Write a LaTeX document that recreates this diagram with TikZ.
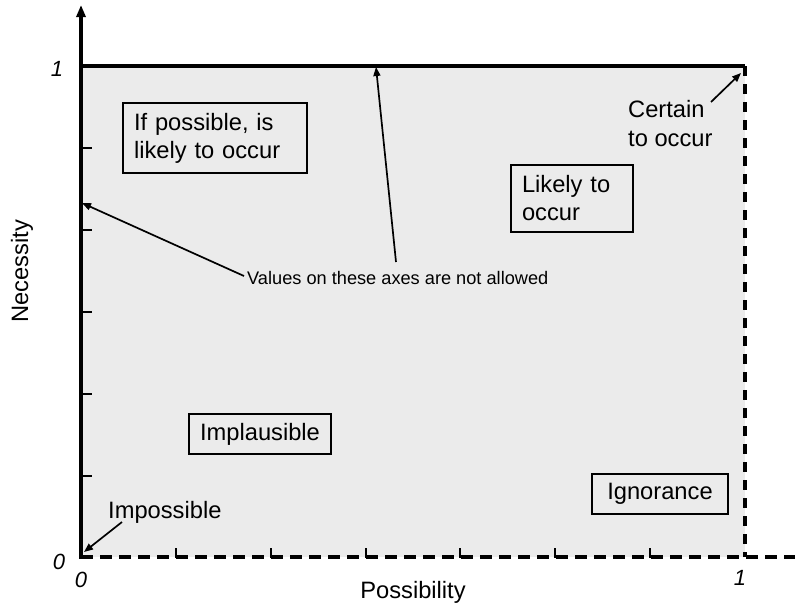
\documentclass[tikz,border=0pt]{standalone}
\usepackage{fontspec}
\setmainfont{Liberation Sans}
\usetikzlibrary{arrows.meta}
\begin{document}
\begin{tikzpicture}[x=1pt,y=-1pt,
  every node/.style={font=\fontsize{23.7}{28}\selectfont, inner sep=0pt},
  lbox/.style={draw=black, line width=2pt, align=left, inner xsep=10pt},
  axisline/.style={line width=3.2pt, black},
  dashaxis/.style={line width=3.2pt, black, dash pattern=on 12pt off 7pt},
  tick/.style={line width=2.4pt, black},
  pointer/.style={line width=1.7pt, -{Triangle[length=9pt,width=7pt]}},
  numlab/.style={font=\fontsize{22}{26}\selectfont\itshape}]
\useasboundingbox (0,0) rectangle (795,608);
% shaded region
\fill[black!8] (81,66) rectangle (745,557);
% axes
\coordinate (O) at (81,557);
\coordinate (TL) at (81,66);
\coordinate (TR) at (745,66);
\coordinate (BR) at (745,557);
\coordinate (YT) at (81,5);
\coordinate (XE) at (795,557);
\draw[dashaxis] (O) -- (XE);
\draw[dashaxis, dash pattern=on 10pt off 8pt] (TR) -- (BR);
\draw[axisline] (TL) -- (TR);
\draw[axisline, -{Triangle[length=12pt,width=9pt]}] (O) -- (YT);
\draw[axisline] (79.4,557) -- (92,557);
% ticks
\foreach \yy in {148,230,312,394,476} \draw[tick] (81,\yy) -- (92,\yy);
\foreach \xx in {176,271,366,460,555,650} \draw[tick] (\xx,548) -- (\xx,558);
% numeric labels
\node[numlab] (n1y) at (57,69) {1};
\node[numlab] (n0y) at (59,562) {0};
\node[numlab] (n0x) at (81,580) {0};
\node[numlab] (n1x) at (740,578) {1};
% axis titles
\node[anchor=base] (px) at (413,598) {Possibility};
\node[rotate=90, anchor=base] (ny) at (28,271) {Necessity};
% boxes
\node[lbox, minimum width=184pt, minimum height=70pt, text width=162pt] (b1) at (215,138) {If possible, is\\likely to occur};
\node[lbox, minimum width=122pt, minimum height=67pt, text width=100pt] (b2) at (572,198.5) {Likely to\\occur};
\node[lbox, minimum width=142pt, minimum height=40pt, align=center] (b3) at (260,434) {Implausible};
\node[lbox, minimum width=136pt, minimum height=40pt, align=center] (b4) at (660,494) {Ignorance};
% free labels
\node[align=left, anchor=north west, font=\fontsize{23.7}{29}\selectfont] (cert) at (628,100) {Certain\\to occur};
\node[anchor=base west] (imp) at (108,518) {Impossible};
\node[anchor=base west, font=\fontsize{18.2}{22}\selectfont] (vals) at (247,284) {Values on these axes are not allowed};
% pointers
\coordinate (c1) at (711,102);
\coordinate (c1t) at (741,73);
\draw[pointer] (c1) -- (c1t);
\coordinate (i1) at (122,522);
\coordinate (i1t) at (84,552);
\draw[pointer] (i1) -- (i1t);
\coordinate (v1) at (244,276);
\coordinate (v1t) at (82,203);
\draw[pointer] (v1) -- (v1t);
\coordinate (v2) at (396,262);
\coordinate (v2t) at (376,67);
\draw[pointer] (v2) -- (v2t);
\end{tikzpicture}
\end{document}
